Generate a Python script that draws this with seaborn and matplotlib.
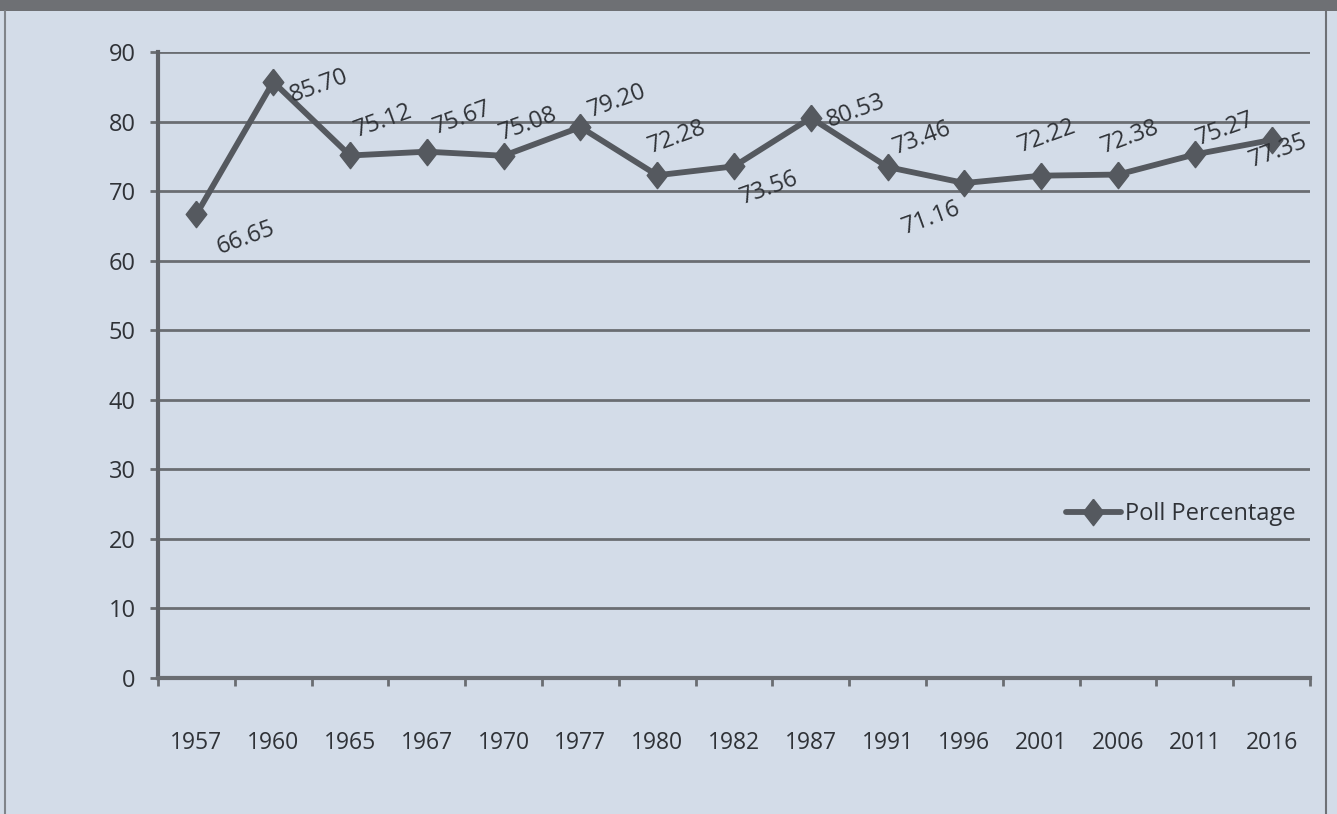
import numpy as np
import pandas as pd
import matplotlib
matplotlib.use("Agg")
import matplotlib.pyplot as plt
from matplotlib.patches import Rectangle
from matplotlib.lines import Line2D
import seaborn as sns

# poll percentage by election year
years = ["1957", "1960", "1965", "1967", "1970", "1977", "1980", "1982",
         "1987", "1991", "1996", "2001", "2006", "2011", "2016"]
poll_pct = [66.65, 85.70, 75.12, 75.67, 75.08, 79.20, 72.28, 73.56,
            80.53, 73.46, 71.16, 72.22, 72.38, 75.27, 77.35]
# label placement (offset in pixels from the point)
label_dx = [49, 46, 33, 35, 25, 37, 20, 35, 45, 35, -33, 6, 12, 30, 7]
label_dy = [-24, -4, 34, 34, 32, 26, 38, -22, 7, 29, -35, 40, 37, 25, -11]

bg = "#d3dce8"
ink = "#2f3237"
line_col = "#55595f"
grid_col = "#6a6d72"

sns.set_theme(style="white")
plt.rcParams["font.family"] = ["Open Sans", "DejaVu Sans"]

df = pd.DataFrame({"pos": np.arange(len(years)), "year": years, "pct": poll_pct})

fig = plt.figure(figsize=(13.37, 8.14), dpi=100, facecolor=bg)
ax = fig.add_axes([158 / 1337, 1 - 678 / 814, 1152 / 1337, 626 / 814])
ax.set_facecolor(bg)

# frame of the printed chart
fig.patches.append(Rectangle((0, 1 - 11 / 814), 1, 11 / 814, transform=fig.transFigure,
                             facecolor="#6e7074", edgecolor="none", zorder=0))
fig.lines.append(Line2D([5 / 1337, 5 / 1337], [0, 1 - 11 / 814], transform=fig.transFigure,
                        color="#80848a", lw=1.5))
fig.lines.append(Line2D([1326 / 1337, 1326 / 1337], [0, 1 - 11 / 814], transform=fig.transFigure,
                        color="#6e7176", lw=1.5))

# slightly tall diamond like the original marker
diamond = [(0, 1), (0.78, 0), (0, -1), (-0.78, 0), (0, 1)]
sns.lineplot(data=df, x="pos", y="pct", ax=ax, color=line_col, lw=4.2,
             marker=diamond, markersize=19, markeredgecolor=line_col, markeredgewidth=1,
             label="Poll Percentage", zorder=3)

for i, v in enumerate(poll_pct):
    ax.annotate(f"{v:.2f}", (i, v), xytext=(label_dx[i], label_dy[i]),
                textcoords="offset pixels", ha="center", va="center",
                rotation=20, fontsize=17, color=ink, zorder=4)

ax.set_xlim(-0.5, len(years) - 0.5)
ax.set_ylim(0, 90)
ax.set_yticks(range(0, 91, 10))
ax.yaxis.grid(True, color=grid_col, lw=2)
ax.set_axisbelow(True)

ax.set_xticks(df["pos"])
ax.set_xticklabels(years)
ax.set_xticks(np.arange(-0.5, len(years)), minor=True)
ax.tick_params(axis="x", which="major", length=0, pad=38, labelsize=16.5, labelcolor=ink)
ax.tick_params(axis="x", which="minor", length=6, width=2, color=grid_col, direction="out", bottom=True)
ax.tick_params(axis="y", length=6, width=2, color=grid_col, direction="out", left=True,
               pad=10, labelsize=17, labelcolor=ink)
ax.set_xlabel("")
ax.set_ylabel("")

for s in ["top", "right"]:
    ax.spines[s].set_visible(False)
ax.spines["left"].set_color("#5f6267")
ax.spines["left"].set_linewidth(3)
ax.spines["bottom"].set_color("#6a6d72")
ax.spines["bottom"].set_linewidth(3)

leg = ax.legend(loc="center left", bbox_to_anchor=(887 / 1152, 1 - (514 - 52) / 626),
                frameon=False, fontsize=17, handlelength=2.3, handletextpad=0.2,
                labelcolor=ink)

fig.savefig("out.png", dpi=100, facecolor=bg)
